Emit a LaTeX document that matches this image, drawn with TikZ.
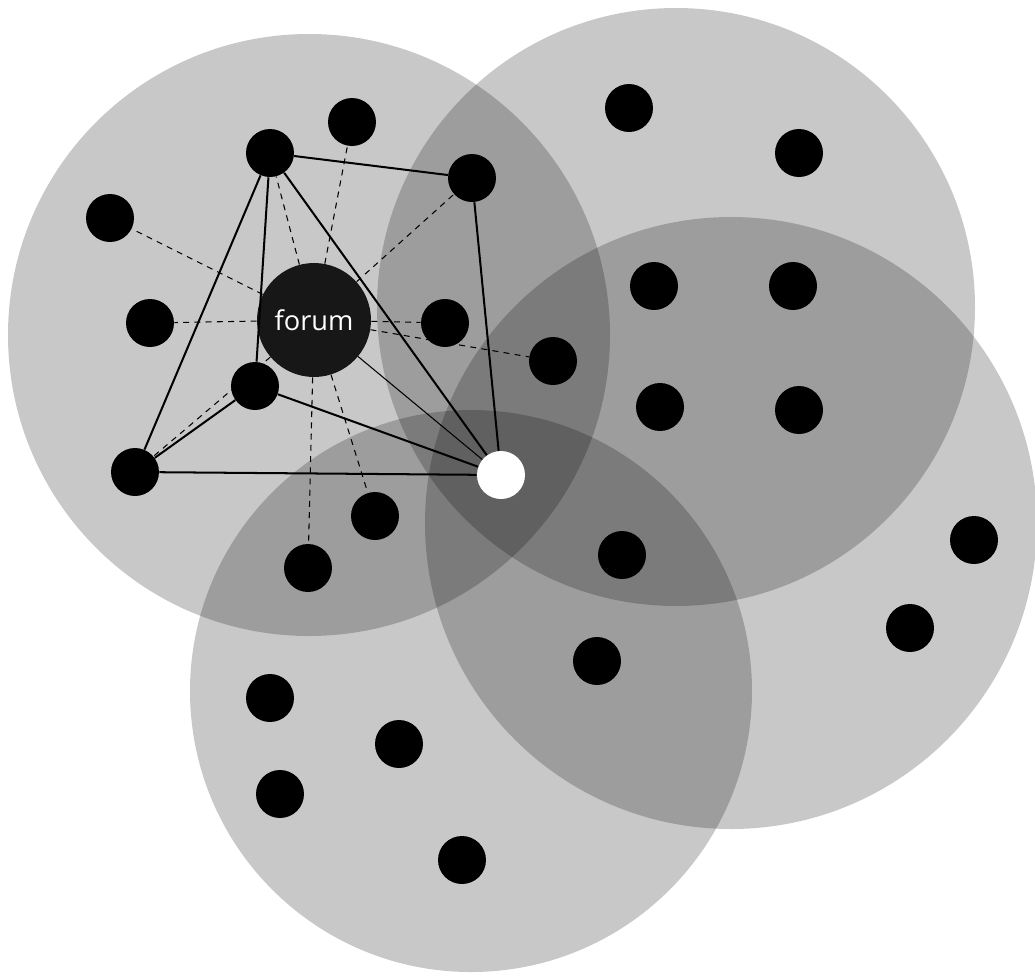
\documentclass[tikz,border=0pt]{standalone}
\usepackage{fontspec}
\setmainfont{Open Sans}
\usetikzlibrary{positioning,backgrounds}

\begin{document}
\begin{tikzpicture}[x=0.02cm,y=-0.02cm,
  zone/.style={fill=black,fill opacity=0.215},
  dot/.style={circle,fill=black,minimum size=0.96cm,inner sep=0pt},
  me/.style={circle,fill=white,minimum size=0.96cm,inner sep=0pt},
  hub/.style={circle,fill=black!91,minimum size=2.28cm,inner sep=0pt,
  	text=white,font=\fontsize{15.5}{18}\selectfont},
  link/.style={line width=1.15pt},
  tie/.style={dash pattern=on 3.4pt off 3pt,line width=0.6pt}]

 \useasboundingbox (0,0) rectangle (1035,975);

 % members of the forum
 \node[hub] (forum) at (314,320) {forum};
 \node[me] (self) at (501,475) {};
 \foreach \n/\x/\y in {a/270/153, b/352/122, c/472/178, d/110/218, e/150/323,
 	f/445/323, g/553/361, h/255/386, j/135/472, k/375/516, l/308/568}
 	\node[dot] (\n) at (\x,\y) {};

 % other people
 \foreach \n/\x/\y in {p1/629/108, p2/799/153, p3/654/286, p4/793/286,
 	p5/660/407, p6/799/410, q1/974/540, q2/910/628, q3/622/555, q4/597/661,
 	r1/270/698, r2/399/744, r3/280/794, r4/462/860}
 	\node[dot] (\n) at (\x,\y) {};

 % forum ties
 \foreach \n in {a,b,c,d,e,f,g,j,k,l}
 	\draw[tie] (forum) -- (\n);

 % friendships
 \draw[link] (a) -- (c);
 \draw[link] (a) -- (j);
 \draw[link] (a) -- (h);
 \draw[link] (a) -- (self);
 \draw[link] (c) -- (self);
 \draw[link] (j) -- (h);
 \draw[link] (j) -- (self);
 \draw[link] (h) -- (self);
 \draw[line width=0.6pt] (forum) -- (self);

 % the four neighbourhoods
 \scoped[on background layer]
 {
 	\fill[zone] (309,335) circle (301);
 	\fill[zone] (676,307) circle (299);
 	\fill[zone] (731,523) circle (306);
 	\fill[zone] (471,691) circle (281);
 }

\end{tikzpicture}
\end{document}
